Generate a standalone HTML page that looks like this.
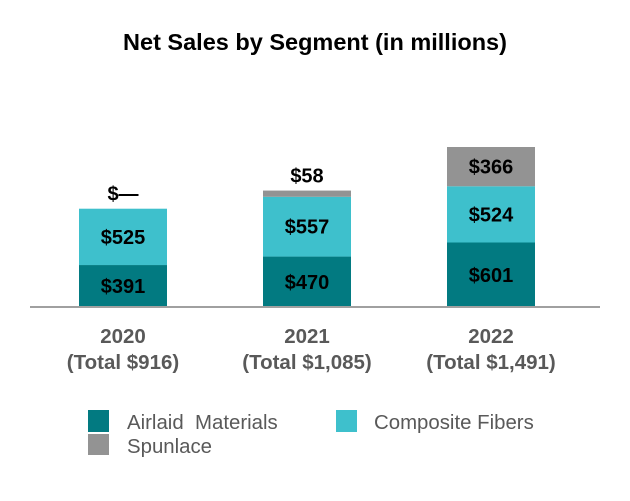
<!DOCTYPE html>
<html><head><meta charset="utf-8"><style>
body{margin:0;background:#fff;width:630px;height:496px;overflow:hidden;font-family:"Liberation Sans",Arial,sans-serif}
</style></head><body>
<svg width="630" height="496">
<text x="315" y="50" text-anchor="middle" font-size="23.5" font-weight="bold" fill="#000">Net Sales by Segment (in millions)</text>
<g id="bars"></g>
<line x1="30" y1="307" x2="600" y2="307" stroke="#a0a0a0" stroke-width="2"/>
<g id="legend">
<rect x="88" y="410" width="21" height="22" fill="#027a81"/>
<text x="127" y="429" font-size="20.4" fill="#595959">Airlaid&#160; Materials</text>
<rect x="336" y="410" width="21" height="22" fill="#3ec0cc"/>
<text x="374" y="429" font-size="20.4" fill="#595959">Composite Fibers</text>
<rect x="88" y="434" width="21" height="21" fill="#939393"/>
<text x="127" y="453" font-size="20.4" fill="#595959">Spunlace</text>
</g>
</svg>
<script>
const years = ["2020","2021","2022"];
const totals = ["$916","$1,085","$1,491"];
const airlaid = [391,470,601];
const composite = [525,557,524];
const spunlace = [0,58,366];
const spunlaceLabels = ["$\u2014","$58","$366"];

const NS="http://www.w3.org/2000/svg";
const g=document.getElementById('bars');
const base=307, scale=160/1491, barW=88;
function xc(i){return 123+i*184;}
function y(v){return base - v*scale;}
function el(tag,attrs){const e=document.createElementNS(NS,tag);for(const k in attrs)e.setAttribute(k,attrs[k]);return e;}
function txt(x,yy,s,size,fill){const t=el('text',{x:x,y:yy,'text-anchor':'middle','font-size':size,'font-weight':'bold',fill:fill});t.textContent=s;return t;}
years.forEach((yr,i)=>{
  const segs=[[airlaid[i],'#027a81','airlaid'],[composite[i],'#3ec0cc','composite'],[spunlace[i],'#939393','spunlace']];
  let acc=0;
  segs.forEach(([v,c,n])=>{
    if(v<=0)return;
    const top=y(acc+v), bot=y(acc);
    const r=el('rect',{x:xc(i)-barW/2,y:top,width:barW,height:bot-top,fill:c});
    
    
    g.appendChild(r);
    if(bot-top>20){
      const lbl=n==='spunlace'?spunlaceLabels[i]:'$'+v;
      const t=txt(xc(i),(top+bot)/2+7,lbl,20,'#000');
      
      
      g.appendChild(t);
    }
    acc+=v;
  });
  if(spunlace[i]*scale<=20){
    const t=txt(xc(i),y(acc)-8,spunlaceLabels[i],20,'#000');
    
    
    g.appendChild(t);
  }
  const a=txt(xc(i),343,yr,20.5,'#595959');
  
  
  g.appendChild(a);
  const b=txt(xc(i),369,'(Total '+totals[i]+')',20.5,'#595959');
  
  
  g.appendChild(b);
});
</script>
</body></html>
